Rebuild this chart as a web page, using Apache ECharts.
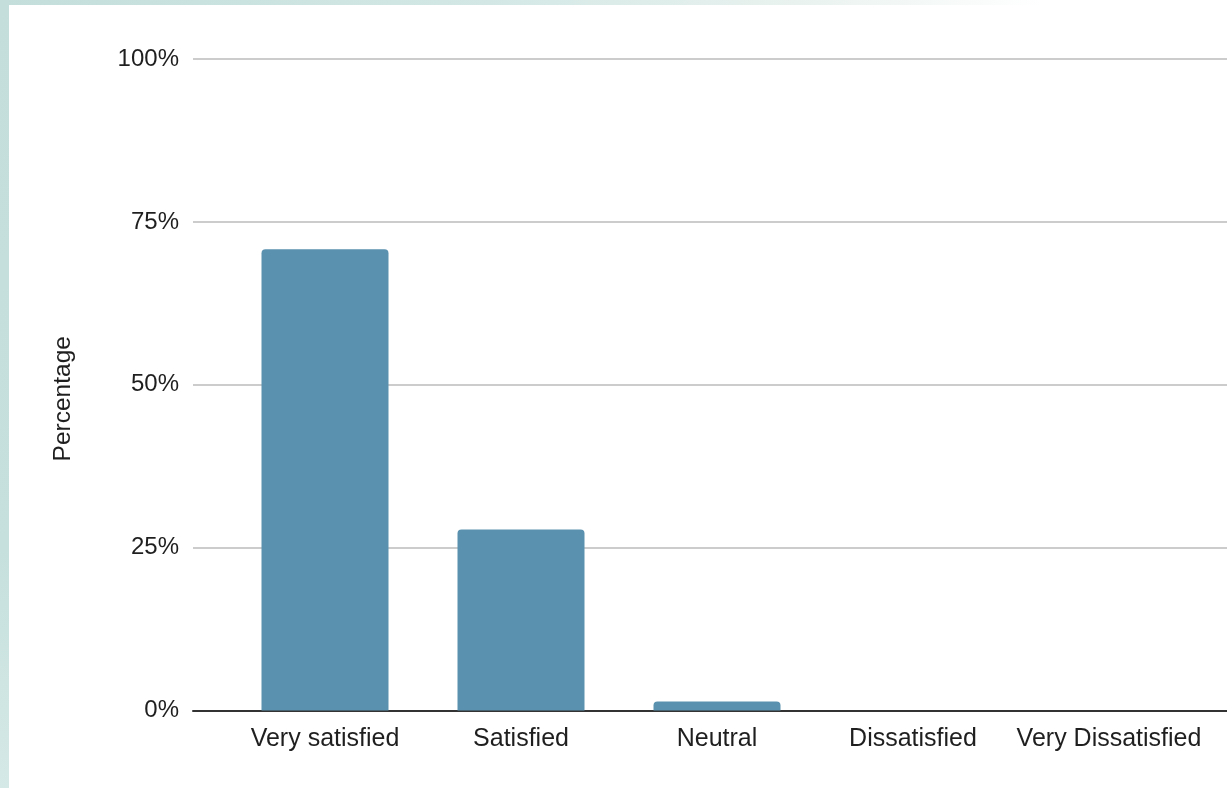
<!DOCTYPE html>
<html>
<head>
<meta charset="utf-8">
<script src="https://cdn.jsdelivr.net/npm/echarts@6/dist/echarts.min.js"></script>
<style>
  html, body { margin: 0; padding: 0; width: 1227px; height: 788px; overflow: hidden; }
  body { background: linear-gradient(to right, #c3dedb 0%, #d3e8e5 40%, #e9f2ef 65%, #ffffff 85%); position: relative; }
  #panel { position: absolute; left: 9px; top: 5px; right: 0; bottom: 0; background: #ffffff; }
  #leftstrip { position: absolute; left: 0; top: 0; width: 9px; height: 788px; background: linear-gradient(to bottom, #c3dedb 0%, #c6e0dd 70%, #d5e9e6 100%); }
  #chart { position: absolute; left: 0; top: 0; width: 1227px; height: 788px; }
</style>
</head>
<body>
<div id="leftstrip"></div>
<div id="panel"></div>
<div id="chart"></div>
<script>
const categories = ['Very satisfied', 'Satisfied', 'Neutral', 'Dissatisfied', 'Very Dissatisfied'];
const percentages = [70.8, 27.8, 1.4, 0, 0];
const yTicks = [0, 25, 50, 75, 100];

const chart = echarts.init(document.getElementById('chart'), null, { renderer: 'canvas' });
const font = 'Liberation Sans, Arial, sans-serif';
const option = {
  backgroundColor: 'transparent',
  animation: false,
  grid: [
    { left: 193, right: 0, top: 59, bottom: 77.5, containLabel: false },
    { left: 227, right: 20, top: 59, bottom: 77.5, containLabel: false }
  ],
  xAxis: [
    {
      type: 'category', gridIndex: 0, data: categories,
      axisLine: { show: true, lineStyle: { color: '#333333', width: 2 } },
      axisTick: { show: false }, axisLabel: { show: false }, splitLine: { show: false }
    },
    {
      type: 'category', gridIndex: 1, data: categories,
      axisLine: { show: false }, axisTick: { show: false },
      axisLabel: { show: true, color: '#1f1f1f', fontSize: 25, fontFamily: font, margin: 16, interval: 0 }
    }
  ],
  yAxis: [
    {
      type: 'value', gridIndex: 0, min: yTicks[0], max: yTicks[yTicks.length - 1], interval: 25,
      axisLine: { show: false }, axisTick: { show: false },
      axisLabel: { color: '#1f1f1f', fontSize: 24, fontFamily: font, margin: 14, formatter: '{value}%' },
      splitLine: { show: true, lineStyle: { color: '#cccccc', width: 2 } },
      name: 'Percentage', nameLocation: 'middle', nameGap: 117,
      nameTextStyle: { color: '#1f1f1f', fontSize: 24.5, fontFamily: font, padding: [0, 28, 0, 0] }
    },
    {
      type: 'value', gridIndex: 1, min: yTicks[0], max: yTicks[yTicks.length - 1], interval: 25,
      show: false, splitLine: { show: false }
    }
  ],
  series: [
    {
      type: 'bar', xAxisIndex: 1, yAxisIndex: 1, data: percentages,
      barWidth: 127,
      itemStyle: { color: '#5a91af', borderRadius: [4, 4, 0, 0] }
    }
  ]
};
chart.setOption(option);
</script>
</body>
</html>
